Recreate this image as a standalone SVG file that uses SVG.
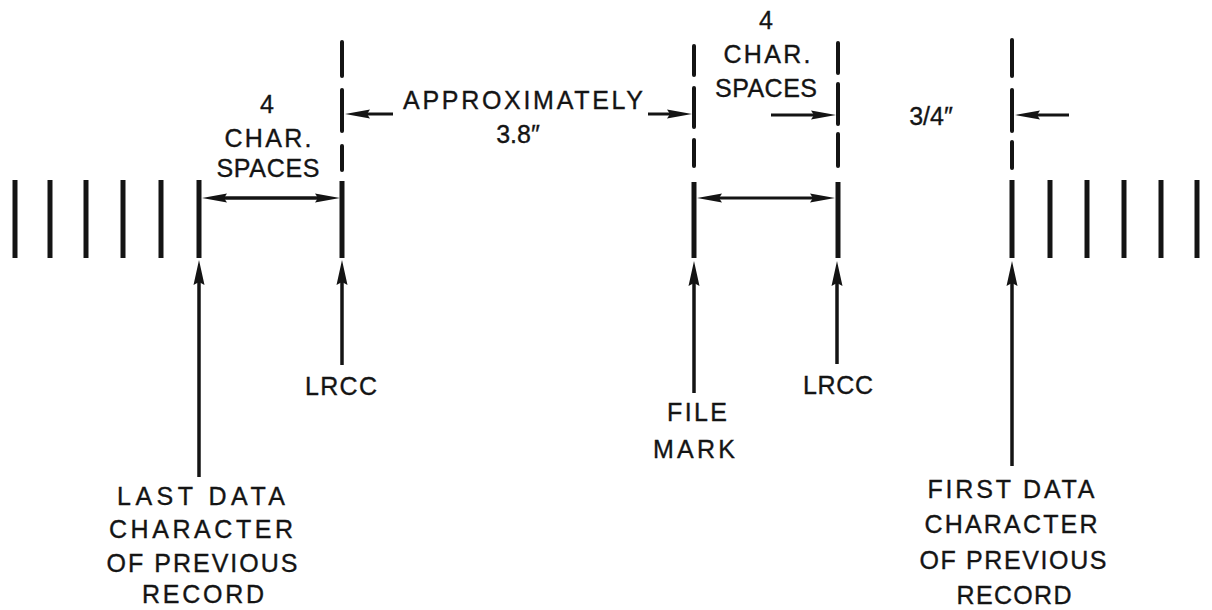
<svg xmlns="http://www.w3.org/2000/svg" width="1212" height="610" viewBox="0 0 1212 610">
<style>
  .t { font-family: "Liberation Sans", Arial, Helvetica, sans-serif; font-size: 25px; fill: #141414; stroke: #141414; stroke-width: 0.35; text-anchor: middle; }
  .bar { stroke: #141414; stroke-width: 5; stroke-linecap: butt; fill: none; }
  .dash { stroke: #141414; stroke-width: 4; stroke-linecap: round; fill: none; }
  .arr { stroke: #141414; stroke-width: 3; fill: none; }
  .arrb { stroke: #141414; stroke-width: 3.5; fill: none; }
  .up { stroke: #141414; stroke-width: 3.5; fill: none; }
</style>
<defs>
  <marker id="ah" viewBox="-28 -6 29 12" markerWidth="29" markerHeight="12" refX="-11" refY="0" orient="auto-start-reverse" markerUnits="userSpaceOnUse">
    <path d="M0,0 L-25,-4.5 L-22,0 L-25,4.5 Z" fill="#141414"/>
  </marker>
  <marker id="av" viewBox="-28 -7 29 14" markerWidth="29" markerHeight="14" refX="-11" refY="0" orient="auto" markerUnits="userSpaceOnUse">
    <path d="M0,0 L-25,-5.5 L-22,0 L-25,5.5 Z" fill="#141414"/>
  </marker>
</defs>
<rect width="1212" height="610" fill="#ffffff"/>

<g id="prev-record-data">
  <line class="bar" x1="15" y1="180" x2="15" y2="258"/>
  <line class="bar" x1="50" y1="180" x2="50" y2="258"/>
  <line class="bar" x1="86" y1="180" x2="86" y2="258"/>
  <line class="bar" x1="123" y1="180" x2="123" y2="258"/>
  <line class="bar" x1="161" y1="180" x2="161" y2="258"/>
  <line class="bar" x1="199" y1="180" x2="199" y2="258"/>
  <text class="t" x="201" y="505" textLength="168" lengthAdjust="spacing">LAST DATA</text>
  <text class="t" x="201" y="538" textLength="184" lengthAdjust="spacing">CHARACTER</text>
  <text class="t" x="202" y="572" textLength="191" lengthAdjust="spacing">OF PREVIOUS</text>
  <text class="t" x="203" y="603" textLength="122" lengthAdjust="spacing">RECORD</text>
</g>

<g id="gap-4-char-left">
  <text class="t" x="267" y="113">4</text>
  <text class="t" x="268" y="147" textLength="87" lengthAdjust="spacing">CHAR.</text>
  <text class="t" x="268" y="177" textLength="103" lengthAdjust="spacing">SPACES</text>
</g>

<g id="lrcc-1">
  <line class="dash" x1="342" y1="42" x2="342" y2="76"/>
  <line class="dash" x1="342" y1="90" x2="342" y2="131"/>
  <line class="dash" x1="342" y1="146" x2="342" y2="170"/>
  <line class="bar" x1="342" y1="181" x2="342" y2="258"/>
  <text class="t" x="341" y="395" textLength="72" lengthAdjust="spacing">LRCC</text>
</g>

<g id="gap-approx">
  <text class="t" x="523" y="109" textLength="240" lengthAdjust="spacing">APPROXIMATELY</text>
  <text class="t" x="518" y="143">3.8″</text>
</g>

<g id="file-mark">
  <line class="dash" x1="694" y1="46" x2="694" y2="75"/>
  <line class="dash" x1="694" y1="88" x2="694" y2="127"/>
  <line class="dash" x1="694" y1="140" x2="694" y2="166"/>
  <line class="bar" x1="694" y1="182" x2="694" y2="258"/>
  <text class="t" x="697" y="421" textLength="60" lengthAdjust="spacing">FILE</text>
  <text class="t" x="694" y="458" textLength="82" lengthAdjust="spacing">MARK</text>
</g>

<g id="gap-4-char-right">
  <text class="t" x="766" y="29">4</text>
  <text class="t" x="767" y="63" textLength="87" lengthAdjust="spacing">CHAR.</text>
  <text class="t" x="766" y="97" textLength="102" lengthAdjust="spacing">SPACES</text>
</g>

<g id="lrcc-2">
  <line class="dash" x1="838" y1="43" x2="838" y2="73"/>
  <line class="dash" x1="838" y1="84" x2="838" y2="124"/>
  <line class="dash" x1="838" y1="134" x2="838" y2="166"/>
  <line class="bar" x1="838" y1="182" x2="838" y2="258"/>
  <text class="t" x="838" y="394" textLength="70" lengthAdjust="spacing">LRCC</text>
</g>

<g id="gap-3-4">
  <text class="t" x="931" y="125">3/4″</text>
</g>

<g id="first-data">
  <line class="dash" x1="1012" y1="40" x2="1012" y2="76"/>
  <line class="dash" x1="1012" y1="90" x2="1012" y2="131"/>
  <line class="dash" x1="1012" y1="142" x2="1012" y2="168"/>
  <line class="bar" x1="1012" y1="180" x2="1012" y2="258"/>
  <text class="t" x="1011" y="498" textLength="167" lengthAdjust="spacing">FIRST DATA</text>
  <text class="t" x="1011" y="533" textLength="173" lengthAdjust="spacing">CHARACTER</text>
  <text class="t" x="1013" y="569" textLength="187" lengthAdjust="spacing">OF PREVIOUS</text>
  <text class="t" x="1014" y="604" textLength="115" lengthAdjust="spacing">RECORD</text>
</g>

<g id="next-record-data">
  <line class="bar" x1="1050" y1="180" x2="1050" y2="258"/>
  <line class="bar" x1="1087" y1="180" x2="1087" y2="258"/>
  <line class="bar" x1="1124" y1="180" x2="1124" y2="258"/>
  <line class="bar" x1="1161" y1="180" x2="1161" y2="258"/>
  <line class="bar" x1="1197" y1="180" x2="1197" y2="258"/>
</g>

<g id="connectors">
  <line class="arr" x1="393" y1="114" x2="356" y2="114" marker-end="url(#ah)"/>
  <line class="arr" x1="648" y1="114" x2="681" y2="114" marker-end="url(#ah)"/>
  <line class="arr" x1="771" y1="115" x2="825" y2="115" marker-end="url(#ah)"/>
  <line class="arr" x1="1069" y1="115" x2="1026" y2="115" marker-end="url(#ah)"/>
  <line class="arrb" x1="213" y1="198" x2="329" y2="198" marker-start="url(#ah)" marker-end="url(#ah)"/>
  <line class="arr" x1="708" y1="198" x2="824" y2="198" marker-start="url(#ah)" marker-end="url(#ah)"/>
  <line class="up" x1="199" y1="477" x2="199" y2="271" marker-end="url(#av)"/>
  <line class="up" x1="342" y1="365" x2="342" y2="271" marker-end="url(#av)"/>
  <line class="up" x1="694" y1="393" x2="694" y2="272" marker-end="url(#av)"/>
  <line class="up" x1="837" y1="364" x2="837" y2="272" marker-end="url(#av)"/>
  <line class="up" x1="1012" y1="466" x2="1012" y2="272" marker-end="url(#av)"/>
</g>
</svg>
